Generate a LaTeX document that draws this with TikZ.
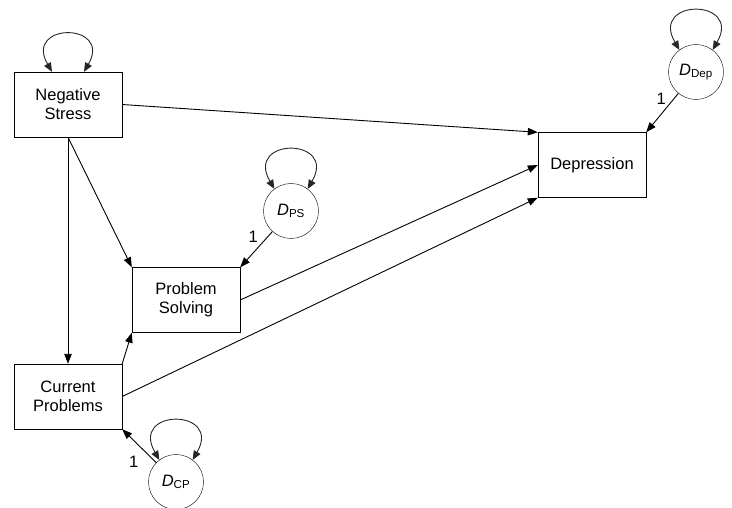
\documentclass[tikz,border=0pt]{standalone}
\usepackage{fontspec}
\setmainfont{Liberation Sans}
\usetikzlibrary{arrows.meta, positioning}

\begin{document}
\begin{tikzpicture}[
  x=1pt, y=-1pt,
  every node/.style={font=\fontsize{16.5}{19}\selectfont},
  var/.style={rectangle, draw=black, fill=white, minimum width=108pt, minimum height=65pt, align=center, inner sep=2pt},
  dist/.style={circle, draw=black, fill=white, minimum size=55pt, inner sep=0pt},
  arrow/.style={-{Triangle[length=10pt,width=7.5pt]}, line width=0.9pt},
  loopy/.style={{Triangle[length=9pt,width=7.5pt]}-{Triangle[length=9pt,width=7.5pt]}, line width=0.9pt, black!85}
]
\useasboundingbox (0,0) rectangle (732,508);

% Nodes
\node[var] (stress) at (68,104.5) {Negative\\Stress};
\node[var] (solving) at (186,300) {Problem\\Solving};
\node[var] (problems) at (68,396.5) {Current\\Problems};
\node[var] (depr) at (592,165) {Depression};
\node[dist] (dps) at (291,211) {\textit{D}\textsubscript{PS}};
\node[dist] (dcp) at (176,482) {\textit{D}\textsubscript{CP}};
\node[dist] (ddep) at (696,72) {\textit{D}\textsubscript{Dep}};

% Arrows
\draw[arrow] (stress.east) -- (depr.north west);
\draw[arrow] (stress.south) -- (solving.north west);
\draw[arrow] (stress.south) -- (problems.north);
\draw[arrow] (problems.north east) -- (solving.south west);
\draw[arrow] (solving.east) -- (depr.west);
\draw[arrow] (problems.east) -- (depr.south west);
\draw[arrow] (ddep) -- (depr.north east) node[pos=0.15, left=4pt] {1};
\draw[arrow] (dps) -- (solving.north east) node[pos=0.15, left=6pt] {1};
\draw[arrow] (dcp) -- (problems.south east) node[pos=0.3, below left=0pt and 4pt] {1};

% Variances
\draw[loopy] ([xshift=-16pt]stress.north) to[out=120, in=60, looseness=4.6] ([xshift=16pt]stress.north);
\draw[loopy] (ddep.127) to[out=120, in=60, looseness=4.6] (ddep.53);
\draw[loopy] (dps.127) to[out=120, in=60, looseness=4.6] (dps.53);
\draw[loopy] (dcp.127) to[out=120, in=60, looseness=4.6] (dcp.53);

\end{tikzpicture}
\end{document}
